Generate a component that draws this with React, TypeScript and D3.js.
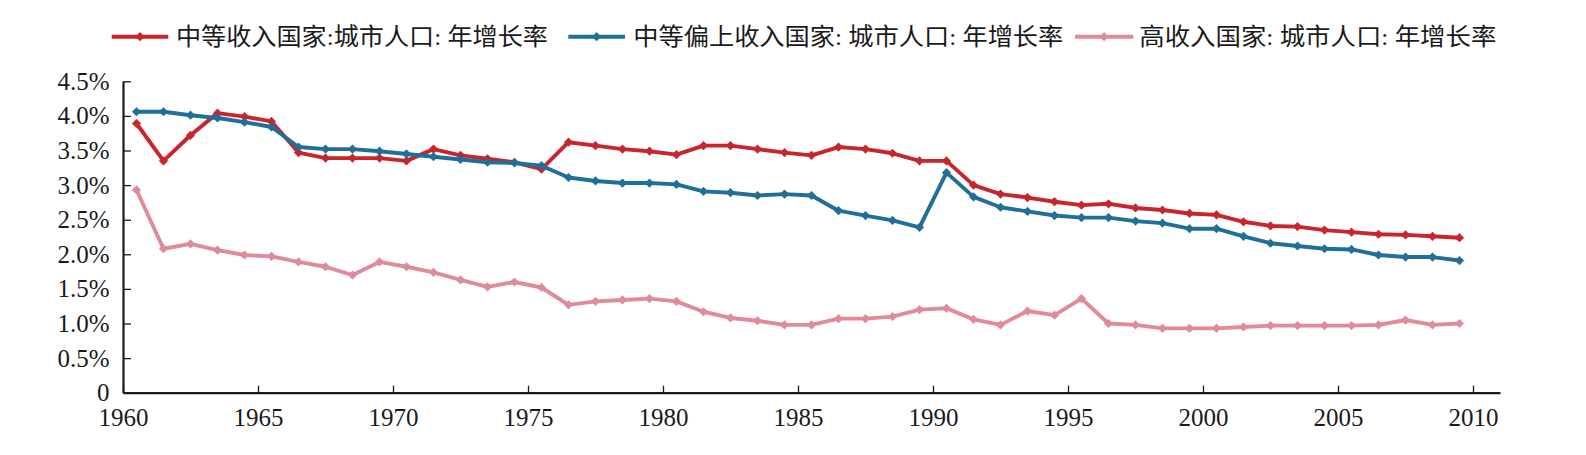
import React, { useEffect, useRef } from 'react';
import * as d3 from 'd3';

const years = [
  1960, 1961, 1962, 1963, 1964, 1965, 1966, 1967, 1968, 1969,
  1970, 1971, 1972, 1973, 1974, 1975, 1976, 1977, 1978, 1979,
  1980, 1981, 1982, 1983, 1984, 1985, 1986, 1987, 1988, 1989,
  1990, 1991, 1992, 1993, 1994, 1995, 1996, 1997, 1998, 1999,
  2000, 2001, 2002, 2003, 2004, 2005, 2006, 2007, 2008, 2009,
];

// 中等收入国家
const middleIncome = [
  3.89, 3.35, 3.72, 4.04, 3.99, 3.92, 3.47, 3.39, 3.39, 3.39,
  3.35, 3.52, 3.43, 3.38, 3.33, 3.23, 3.62, 3.57, 3.52, 3.49,
  3.44, 3.57, 3.57, 3.52, 3.47, 3.43, 3.55, 3.52, 3.46, 3.35,
  3.35, 3.0, 2.87, 2.82, 2.76, 2.71, 2.73, 2.67, 2.64, 2.59,
  2.57, 2.47, 2.41, 2.4, 2.35, 2.32, 2.29, 2.28, 2.26, 2.24,
];

// 中等偏上收入国家
const upperMiddleIncome = [
  4.06, 4.06, 4.01, 3.97, 3.91, 3.84, 3.55, 3.52, 3.52, 3.49,
  3.45, 3.41, 3.37, 3.33, 3.32, 3.28, 3.11, 3.06, 3.03, 3.03,
  3.01, 2.91, 2.89, 2.85, 2.87, 2.85, 2.63, 2.56, 2.49, 2.39,
  3.18, 2.83, 2.68, 2.62, 2.56, 2.53, 2.53, 2.48, 2.45, 2.37,
  2.37, 2.26, 2.16, 2.12, 2.08, 2.07, 1.99, 1.96, 1.96, 1.91,
];

// 高收入国家
const highIncome = [
  2.93, 2.08, 2.15, 2.06, 1.99, 1.97, 1.89, 1.82, 1.7, 1.89,
  1.82, 1.74, 1.63, 1.53, 1.6, 1.52, 1.27, 1.32, 1.34, 1.36,
  1.32, 1.17, 1.08, 1.04, 0.98, 0.98, 1.07, 1.07, 1.1, 1.2,
  1.22, 1.06, 0.98, 1.18, 1.12, 1.36, 1.0, 0.98, 0.93, 0.93,
  0.93, 0.95, 0.97, 0.97, 0.97, 0.97, 0.98, 1.05, 0.98, 1.0,
];

const xTicks = [1960, 1965, 1970, 1975, 1980, 1985, 1990, 1995, 2000, 2005, 2010];
const yTicks = [0, 0.5, 1.0, 1.5, 2.0, 2.5, 3.0, 3.5, 4.0, 4.5];

const seriesNames = [
  '中等收入国家:城市人口: 年增长率',
  '中等偏上收入国家: 城市人口: 年增长率',
  '高收入国家: 城市人口: 年增长率',
];
const seriesValues = [middleIncome, upperMiddleIncome, highIncome];
const colors = ['#c8252d', '#1f6f99', '#e08a9c'];

const W = 1586,
  H = 455;
const left = 123,
  right = 1500,
  top = 81.3,
  bottom = 392.7;

// legend layout
const legendItems = [
  { x0: 111.7, x1: 168.3, tx: 176, tw: 372 },
  { x0: 568.3, x1: 625, tx: 633.3, tw: 430 },
  { x0: 1075, x1: 1133.3, tx: 1139.3, tw: 357 },
];
const legendY = 36.7;

const App = () => {
  const xAxisRef = useRef(null);
  const yAxisRef = useRef(null);

  const x = d3.scaleLinear().domain([1960, 2011]).range([left, right]);
  const y = d3.scaleLinear().domain([0, 4.5]).range([bottom, top]);

  const line = d3
    .line<number>()
    .x((_, i) => x(years[i] + 0.5))
    .y((d) => y(d));

  const diamond = d3.symbol(d3.symbolDiamond2, 54)();

  useEffect(() => {
    const xa = d3
      .axisBottom(x)
      .tickValues(xTicks)
      .tickFormat((d) => String(d))
      .tickSizeInner(-7)
      .tickSizeOuter(0)
      .tickPadding(16);
    const gx = d3.select(xAxisRef.current);
    gx.selectAll('*').remove();
    gx.call(xa);
    gx.select('.domain').attr('stroke', '#1a1a1a').attr('stroke-width', 2.2);
    gx.selectAll('.tick line').attr('stroke', '#1a1a1a').attr('stroke-width', 1.3);
    gx.selectAll('.tick text')
      .attr('fill', '#1a1a1a')
      .attr('font-size', 25)
      .attr('font-family', '"Liberation Serif", "Times New Roman", serif');

    const ya = d3
      .axisLeft(y)
      .tickValues(yTicks)
      .tickFormat((d) => (d === 0 ? '0' : (d as number).toFixed(1) + '%'))
      .tickSizeInner(-8)
      .tickSizeOuter(0)
      .tickPadding(13.5);
    const gy = d3.select(yAxisRef.current);
    gy.selectAll('*').remove();
    gy.call(ya);
    gy.select('.domain').attr('stroke', '#1a1a1a').attr('stroke-width', 2.2);
    gy.selectAll('.tick line').attr('stroke', '#1a1a1a').attr('stroke-width', 1.3);
    gy.selectAll('.tick text')
      .attr('fill', '#1a1a1a')
      .attr('font-size', 25)
      .attr('font-family', '"Liberation Serif", "Times New Roman", serif');
  }, []);

  return (
    <svg
      width={W}
      height={H}
      style={{ position: 'absolute', left: 0, top: 0, display: 'block', background: '#fff' }}
    >
      {seriesValues.map((vals, s) => (
        <g key={s}>
          <path
            d={line(vals) || ''}
            fill="none"
            stroke={colors[s]}
            strokeWidth={3.9}
            strokeLinejoin="round"
          />
          {vals.map((v, i) => (
            <path
              key={i}
              d={diamond || ''}
              transform={`translate(${x(years[i] + 0.5)},${y(v)})`}
              fill={colors[s]}
            />
          ))}
        </g>
      ))}

      <g ref={yAxisRef} transform={`translate(${left},0)`} />
      <g ref={xAxisRef} transform={`translate(0,${bottom})`} />

      {legendItems.map((it, s) => (
        <g key={s}>
          <line x1={it.x0} x2={it.x1} y1={legendY} y2={legendY} stroke={colors[s]} strokeWidth={3.9} />
          <path
            d={diamond || ''}
            transform={`translate(${(it.x0 + it.x1) / 2},${legendY})`}
            fill={colors[s]}
          />
          <text
            x={it.tx}
            y={legendY}
            dominantBaseline="central"
            fontSize={24}
            textLength={it.tw}
            lengthAdjust="spacingAndGlyphs"
            fill="#1a1a1a"
            fontFamily={'"Liberation Serif", "Noto Sans CJK SC", serif'}
          >
            {seriesNames[s]}
          </text>
        </g>
      ))}
    </svg>
  );
};

export default App;
